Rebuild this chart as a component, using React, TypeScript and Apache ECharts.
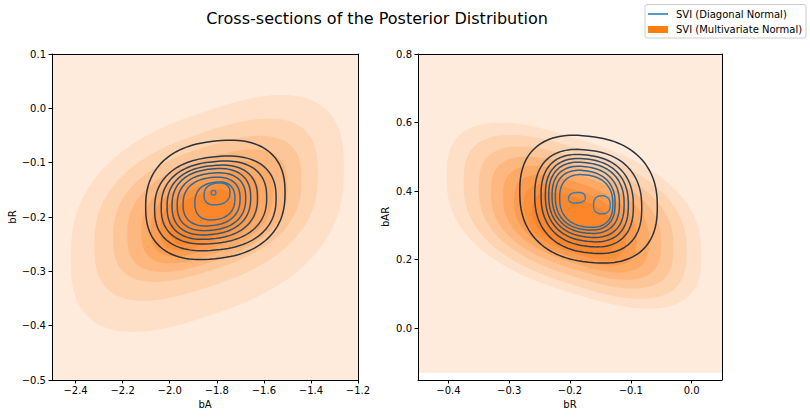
import { useEffect, useRef } from "react";
import * as echarts from "echarts";

// contour extents in data units: [xMin, xMax, yMin, yMax, tilt]
const leftBackground = [-2.5, -1.2, -0.5, 0.1];
const leftFills = [
  [-2.42, -1.26, -0.4, 0.013, 0.4],
  [-2.32, -1.37, -0.345, -0.028, 0.42],
  [-2.24, -1.44, -0.312, -0.058, 0.42],
  [-2.18, -1.5, -0.295, -0.082, 0.42],
  [-2.12, -1.56, -0.28, -0.102, 0.42],
  [-2.08, -1.62, -0.268, -0.12, 0.42],
  [-2.04, -1.68, -0.258, -0.136, 0.42],
  [-2.0, -1.73, -0.248, -0.152, 0.42],
];
// [xMin, xMax, yMin, yMax, tilt, level]
const leftLines = [
  [-2.102, -1.51, -0.2775, -0.0595, 0.12, 0],
  [-2.064, -1.548, -0.2615, -0.0885, 0.12, 1],
  [-2.036, -1.588, -0.2492, -0.0976, 0.12, 2],
  [-2.011, -1.627, -0.2406, -0.105, 0.12, 3],
  [-1.99, -1.656, -0.2326, -0.1112, 0.12, 4],
  [-1.968, -1.677, -0.2247, -0.1191, 0.12, 5],
  [-1.943, -1.701, -0.2161, -0.1271, 0.12, 6],
  [-1.893, -1.723, -0.2051, -0.1357, 0.12, 7],
  [-1.854, -1.744, -0.1775, -0.1375, 0.12, 8],
  [-1.824, -1.804, -0.1596, -0.151, 0, 9],
];

const rightBackground = [-0.45, 0.05, -0.13, 0.8];
const rightFills = [
  [-0.403, 0.016, 0.073, 0.584, -0.45],
  [-0.375, -0.008, 0.1, 0.55, -0.45],
  [-0.35, -0.03, 0.128, 0.518, -0.45],
  [-0.33, -0.05, 0.152, 0.49, -0.45],
  [-0.31, -0.07, 0.172, 0.465, -0.45],
  [-0.292, -0.09, 0.19, 0.44, -0.45],
  [-0.276, -0.108, 0.206, 0.415, -0.45],
  [-0.262, -0.126, 0.222, 0.392, -0.45],
];
const rightLines = [
  [-0.2826, -0.0564, 0.1915, 0.5615, -0.12, 0],
  [-0.258, -0.082, 0.219, 0.5206, -0.12, 1],
  [-0.2476, -0.0958, 0.2383, 0.506, -0.12, 2],
  [-0.2405, -0.104, 0.2529, 0.4943, -0.12, 3],
  [-0.235, -0.111, 0.2657, 0.4835, -0.12, 4],
  [-0.2295, -0.1187, 0.2774, 0.4718, -0.12, 5],
  [-0.2241, -0.1258, 0.287, 0.46, -0.12, 6],
  [-0.217, -0.1295, 0.2949, 0.4476, -0.12, 7],
  [-0.2023, -0.1749, 0.365, 0.396, 0.1, 9],
  [-0.1613, -0.1339, 0.3337, 0.3863, 0, 9],
];

const leftXTicks = [-2.4, -2.2, -2.0, -1.8, -1.6, -1.4, -1.2];
const leftYTicks = [-0.5, -0.4, -0.3, -0.2, -0.1, 0.0, 0.1];
const rightXTicks = [-0.4, -0.3, -0.2, -0.1, 0.0];
const rightYTicks = [0.0, 0.2, 0.4, 0.6, 0.8];

const fillColors = [
  "#feebdc", "#fee0c9", "#fdd3b0", "#fdc698", "#fdb77f",
  "#fdaa67", "#fd9c50", "#fd903b", "#fd862a",
];
const lineColors = [
  "#2c3038", "#2d3947", "#2e4256", "#2f4b65", "#305474",
  "#315d83", "#316591", "#326e9e", "#3276aa", "#3380b8",
];

const FONT = "DejaVu Sans";
const TITLE = "Cross-sections of the Posterior Distribution";
const LEGEND_LINE = "SVI (Diagonal Normal)";
const LEGEND_FILL = "SVI (Multivariate Normal)";

function outline(c: number[], exp: number, n = 120): number[][] {
  if (c.length === 4) {
    return [[c[0], c[2]], [c[1], c[2]], [c[1], c[3]], [c[0], c[3]]];
  }
  const [x0, x1, y0, y1, tilt] = c;
  const cx = (x0 + x1) / 2, sx = (x1 - x0) / 2;
  const cy = (y0 + y1) / 2, sy = (y1 - y0) / 2;
  const k = Math.sqrt(1 - tilt * tilt);
  const pts: number[][] = [];
  for (let i = 0; i < n; i++) {
    const t = (i / n) * Math.PI * 2;
    const ct = Math.cos(t), st = Math.sin(t);
    const u = Math.sign(ct) * Math.pow(Math.abs(ct), 2 / exp);
    const v = Math.sign(st) * Math.pow(Math.abs(st), 2 / exp);
    pts.push([cx + sx * u, cy + sy * (tilt * u + k * v)]);
  }
  return pts;
}

const fmt = (v: number) => (v < 0 ? "\u2212" : "") + Math.abs(v).toFixed(1);

function axes(grid: number, min: number, max: number, ticks: number[], name: string, isX: boolean, gap: number) {
  const common = {
    gridIndex: grid,
    type: "value" as const,
    min,
    max,
    z: 10,
    splitLine: { show: false },
    axisLine: { show: true, onZero: false, lineStyle: { color: "#000", width: 1 } },
  };
  return [
    {
      ...common,
      position: isX ? "bottom" : "left",
      axisTick: { show: true, length: 3.5, customValues: ticks, lineStyle: { color: "#000" } },
      axisLabel: {
        customValues: ticks,
        formatter: fmt,
        color: "#000",
        fontSize: 10,
        fontFamily: FONT,
        margin: isX ? 5 : 6,
      },
      name,
      nameLocation: "middle",
      nameGap: gap,
      nameTextStyle: { color: "#000", fontSize: 10, fontFamily: FONT },
    },
    {
      ...common,
      position: isX ? "top" : "right",
      axisTick: { show: false },
      axisLabel: { show: false },
    },
  ];
}

function fillSeries(bg: number[], fills: number[][], axisIdx: number) {
  const shapes = [bg, ...fills];
  return {
    type: "custom",
    name: LEGEND_FILL,
    xAxisIndex: axisIdx,
    yAxisIndex: axisIdx,
    silent: true,
    clip: true,
    z: 2,
    data: shapes.map((s) => [(s[0] + s[1]) / 2, (s[2] + s[3]) / 2]),
    renderItem: (params: any, api: any) => {
      const s = shapes[params.dataIndex];
      const points = outline(s, 2.6).map((p) => api.coord(p));
      return {
        type: "polygon",
        shape: { points },
        style: { fill: fillColors[params.dataIndex], stroke: "none" },
      };
    },
  };
}

function lineSeries(lines: number[][], axisIdx: number) {
  return {
    type: "custom",
    name: LEGEND_LINE,
    xAxisIndex: axisIdx,
    yAxisIndex: axisIdx,
    silent: true,
    clip: true,
    z: 3,
    data: lines.map((s) => [(s[0] + s[1]) / 2, (s[2] + s[3]) / 2]),
    renderItem: (params: any, api: any) => {
      const s = lines[params.dataIndex];
      const points = outline(s.slice(0, 5), 2.4).map((p) => api.coord(p));
      return {
        type: "polygon",
        shape: { points },
        style: { fill: "none", stroke: lineColors[s[5]], lineWidth: 1.5 },
      };
    },
  };
}

export default function App() {
  const chartRef = useRef<HTMLDivElement>(null);

  useEffect(() => {
    if (!chartRef.current) return;
    const chart = echarts.init(chartRef.current, undefined, { renderer: "svg" });

    const lx = axes(0, -2.5, -1.2, leftXTicks, "bA", true, 18);
    const ly = axes(0, -0.5, 0.1, leftYTicks, "bR", false, 35);
    const rx = axes(1, -0.45, 0.05, rightXTicks, "bR", true, 18);
    const ry = axes(1, -0.151, 0.8, rightYTicks, "bAR", false, 28);

    const option: any = {
      animation: false,
      textStyle: { fontFamily: FONT },
      grid: [
        { left: 52, top: 54, width: 306, height: 326 },
        { left: 418, top: 54, width: 304, height: 326 },
      ],
      xAxis: [lx[0], lx[1], rx[0], rx[1]],
      yAxis: [ly[0], ly[1], ry[0], ry[1]],
      series: [
        fillSeries(leftBackground, leftFills, 0),
        lineSeries(leftLines, 0),
        fillSeries(rightBackground, rightFills, 2),
        lineSeries(rightLines, 2),
      ],
      graphic: [
        {
          type: "text",
          x: 377,
          y: 18,
          style: {
            text: TITLE,
            fill: "#000",
            fontSize: 16,
            fontFamily: FONT,
            align: "center",
            verticalAlign: "middle",
          },
        },
        {
          type: "rect",
          shape: { x: 645, y: 4.5, width: 161, height: 33.5, r: 2 },
          style: { fill: "rgba(255,255,255,0.8)", stroke: "#cccccc", lineWidth: 1 },
        },
        {
          type: "line",
          shape: { x1: 648, y1: 14, x2: 668, y2: 14 },
          style: { stroke: "#1f77b4", lineWidth: 1.5 },
        },
        {
          type: "rect",
          shape: { x: 648, y: 26, width: 20, height: 7 },
          style: { fill: "#ff7f0e" },
        },
        {
          type: "text",
          x: 676,
          y: 14,
          style: { text: LEGEND_LINE, fill: "#000", fontSize: 10, fontFamily: FONT, verticalAlign: "middle" },
        },
        {
          type: "text",
          x: 676,
          y: 29.5,
          style: { text: LEGEND_FILL, fill: "#000", fontSize: 10, fontFamily: FONT, verticalAlign: "middle" },
        },
      ],
    };
    chart.setOption(option);

    return () => {
      chart.dispose();
    };
  }, []);

  return (
    <div
      ref={chartRef}
      style={{ position: "absolute", left: 0, top: 0, width: 810, height: 418 }}
    />
  );
}
